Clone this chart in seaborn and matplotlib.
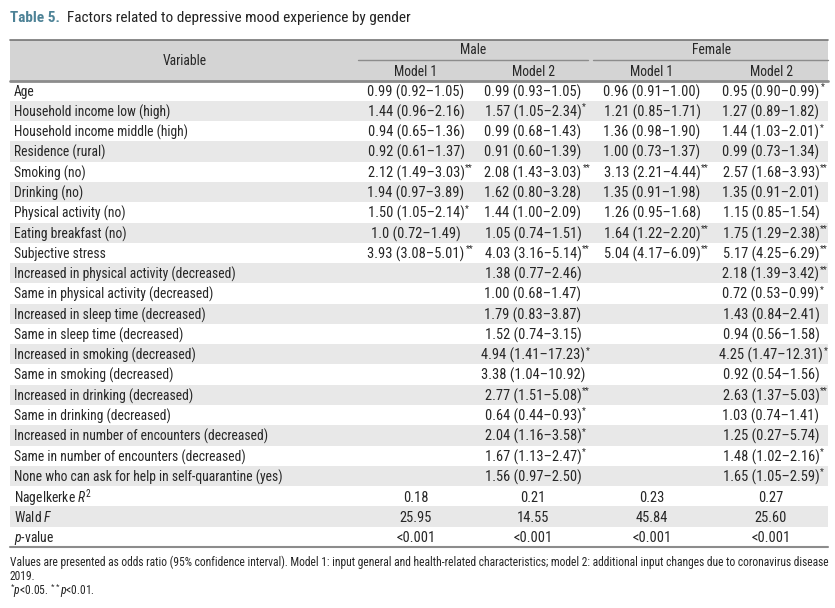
import numpy as np
import matplotlib
matplotlib.use("Agg")
import matplotlib.pyplot as plt
import seaborn as sns
from matplotlib import font_manager
from matplotlib.colors import ListedColormap

# table content
variables = ["Age", "Household income low (high)", "Household income middle (high)",
             "Residence (rural)", "Smoking (no)", "Drinking (no)", "Physical activity (no)",
             "Eating breakfast (no)", "Subjective stress",
             "Increased in physical activity (decreased)", "Same in physical activity (decreased)",
             "Increased in sleep time (decreased)", "Same in sleep time (decreased)",
             "Increased in smoking (decreased)", "Same in smoking (decreased)",
             "Increased in drinking (decreased)", "Same in drinking (decreased)",
             "Increased in number of encounters (decreased)", "Same in number of encounters (decreased)",
             "None who can ask for help in self-quarantine (yes)"]

male_m1 = ["0.99 (0.92–1.05)", "1.44 (0.96–2.16)", "0.94 (0.65–1.36)", "0.92 (0.61–1.37)",
           "2.12 (1.49–3.03)**", "1.94 (0.97–3.89)", "1.50 (1.05–2.14)*", "1.0 (0.72–1.49)",
           "3.93 (3.08–5.01)**"] + [""] * 11
male_m2 = ["0.99 (0.93–1.05)", "1.57 (1.05–2.34)*", "0.99 (0.68–1.43)", "0.91 (0.60–1.39)",
           "2.08 (1.43–3.03)**", "1.62 (0.80–3.28)", "1.44 (1.00–2.09)", "1.05 (0.74–1.51)",
           "4.03 (3.16–5.14)**", "1.38 (0.77–2.46)", "1.00 (0.68–1.47)", "1.79 (0.83–3.87)",
           "1.52 (0.74–3.15)", "4.94 (1.41–17.23)*", "3.38 (1.04–10.92)", "2.77 (1.51–5.08)**",
           "0.64 (0.44–0.93)*", "2.04 (1.16–3.58)*", "1.67 (1.13–2.47)*", "1.56 (0.97–2.50)"]
female_m1 = ["0.96 (0.91–1.00)", "1.21 (0.85–1.71)", "1.36 (0.98–1.90)", "1.00 (0.73–1.37)",
             "3.13 (2.21–4.44)**", "1.35 (0.91–1.98)", "1.26 (0.95–1.68)", "1.64 (1.22–2.20)**",
             "5.04 (4.17–6.09)**"] + [""] * 11
female_m2 = ["0.95 (0.90–0.99)*", "1.27 (0.89–1.82)", "1.44 (1.03–2.01)*", "0.99 (0.73–1.34)",
             "2.57 (1.68–3.93)**", "1.35 (0.91–2.01)", "1.15 (0.85–1.54)", "1.75 (1.29–2.38)**",
             "5.17 (4.25–6.29)**", "2.18 (1.39–3.42)**", "0.72 (0.53–0.99)*", "1.43 (0.84–2.41)",
             "0.94 (0.56–1.58)", "4.25 (1.47–12.31)*", "0.92 (0.54–1.56)", "2.63 (1.37–5.03)**",
             "1.03 (0.74–1.41)", "1.25 (0.27–5.74)", "1.48 (1.02–2.16)*", "1.65 (1.05–2.59)*"]

stat_labels = ["Nagelkerke $R^2$", "Wald $F$", "$p$-value"]
nagelkerke = ["0.18", "0.21", "0.23", "0.27"]
wald_f = ["25.95", "14.55", "45.84", "25.60"]
p_values = ["<0.001", "<0.001", "<0.001", "<0.001"]

groups = ["Male", "Female"]
models = ["Model 1", "Model 2", "Model 1", "Model 2"]

title_tag = "Table 5."
title_text = "Factors related to depressive mood experience by gender"
footnotes = ["Values are presented as odds ratio (95% confidence interval). Model 1: input general and "
             "health-related characteristics; model 2: additional input changes due to coronavirus disease",
             "2019.",
             "$^{*}p$<0.05. $^{**}p$<0.01."]

# pick a condensed face if one is installed
names = {f.name for f in font_manager.fontManager.ttflist}
font = "Liberation Sans"
for cand in ["Liberation Sans Narrow", "Roboto Condensed", "Archivo Narrow", "PT Sans Narrow",
             "Fira Sans Condensed", "IBM Plex Sans Condensed", "Encode Sans Condensed",
             "Open Sans Condensed"]:
    if cand in names:
        font = cand
        break

sns.set_theme(style="white")
plt.rcParams["font.family"] = [font, "DejaVu Sans"]
plt.rcParams["mathtext.fontset"] = "custom"
plt.rcParams["mathtext.rm"] = font
plt.rcParams["mathtext.it"] = font + ":italic"

W, H = 835, 608
fig = plt.figure(figsize=(W / 100, H / 100), dpi=100)

left, right, top, bottom = 10, 828, 40, 547
body = [[a, b, c, d] for a, b, c, d in zip(male_m1, male_m2, female_m1, female_m2)]
body += [list(nagelkerke), list(wald_f), list(p_values)]
labels = variables + stat_labels
n_rows = len(labels)
row_h = (bottom - top) / (n_rows + 2)

# row shading: 2 header rows then alternating stripes
shade = np.array([2, 2] + [i % 2 for i in range(n_rows)]).reshape(-1, 1)
hax = fig.add_axes([left / W, 1 - bottom / H, (right - left) / W, (bottom - top) / H])
sns.heatmap(shade, ax=hax, cmap=ListedColormap(["white", "#e8e8e8", "#d4d4d4"]),
            vmin=-0.5, vmax=2.5, cbar=False, xticklabels=False, yticklabels=False)

ax = fig.add_axes([0, 0, 1, 1])
ax.set_xlim(0, W)
ax.set_ylim(H, 0)
ax.axis("off")
renderer = fig.canvas.get_renderer()


def text_width(s, size, **kw):
    t = ax.text(0, 0, s, fontsize=size, **kw)
    w = t.get_window_extent(renderer=renderer).width
    t.remove()
    return w


# size fonts so widths match the reference
fs = min(10.5, 10 * 96 / text_width("0.99 (0.92–1.05)", 10))
label_fs = 0.5 * (fs + min(fs, 10 * 250 / text_width(variables[-1], 10)))
title_fs = min(11.5, 10 * 398 / text_width(title_tag + "  " + title_text, 10))
foot_fs = min(fs * 0.95, 10 * 816 / text_width(footnotes[0], 10))

col_x = [416, 533, 652, 771]
group_x = [473, 712]

# title
t = ax.text(left, 18, title_tag, fontsize=title_fs, color="#4d8296", fontweight="semibold", va="center")
ax.annotate("  " + title_text, xy=(1, 0.5), xycoords=t, va="center", fontsize=title_fs, color="#222222")

# header
ax.text(185, 61, "Variable", ha="center", va="center", fontsize=label_fs)
for g, gx in zip(groups, group_x):
    ax.text(gx, 49.5, g, ha="center", va="center", fontsize=label_fs)
for m, mx in zip(models, col_x):
    ax.text(mx, 72, m, ha="center", va="center", fontsize=label_fs)

ax.plot([left, right], [top, top], color="#757575", lw=1.2)
ax.plot([left, right], [top + 2 * row_h, top + 2 * row_h], color="#8c8c8c", lw=2)
ax.plot([358, 588], [top + row_h, top + row_h], color="#8c8c8c", lw=1)
ax.plot([593, right], [top + row_h, top + row_h], color="#8c8c8c", lw=1)
ax.plot([left, right], [bottom, bottom], color="#8c8c8c", lw=1.5)

# body rows
for i, (lab, cells) in enumerate(zip(labels, body)):
    y = top + row_h * (i + 2.5) + 1.2
    ax.text(14, y, lab, ha="left", va="center", fontsize=label_fs)
    for cx, cell in zip(col_x, cells):
        if not cell:
            continue
        stars = cell[len(cell.rstrip("*")):]
        txt = ax.text(cx, y, cell.rstrip("*"), ha="center", va="center", fontsize=fs)
        if stars:
            ax.annotate(stars, xy=(1, 1), xycoords=txt, xytext=(0.6, 1.5), textcoords="offset points",
                        ha="left", va="top", fontsize=6.5)

# footnotes
for j, line in enumerate(footnotes):
    ax.text(left, 562 + j * 14.5, line, ha="left", va="center", fontsize=foot_fs)

fig.savefig("out.png", dpi=100)
